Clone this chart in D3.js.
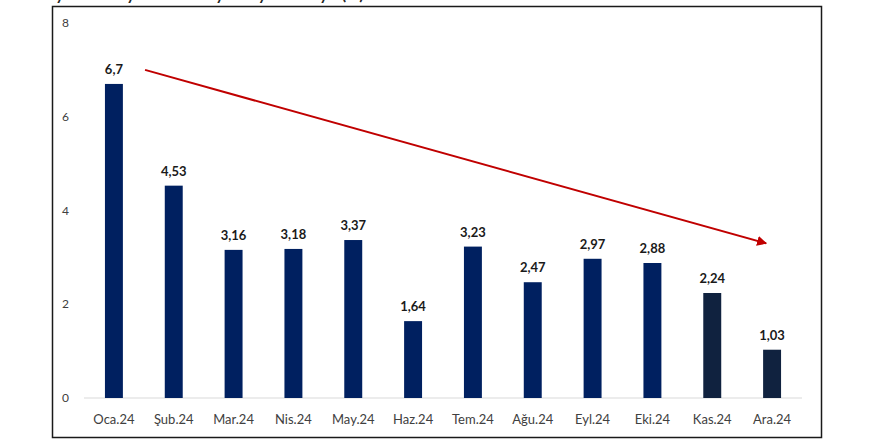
<!DOCTYPE html>
<html><head><meta charset="utf-8">
<script src="https://cdn.jsdelivr.net/npm/d3@7"></script>
<style>html,body{margin:0;padding:0;background:#fff;}svg{display:block;}</style>
</head><body>
<svg id="chart" width="880" height="440"></svg>
<script>
const categories = ["Oca.24","Şub.24","Mar.24","Nis.24","May.24","Haz.24","Tem.24","Ağu.24","Eyl.24","Eki.24","Kas.24","Ara.24"];
const values = [6.7, 4.53, 3.16, 3.18, 3.37, 1.64, 3.23, 2.47, 2.97, 2.88, 2.24, 1.03];
const labels = ["6,7","4,53","3,16","3,18","3,37","1,64","3,23","2,47","2,97","2,88","2,24","1,03"];
const yTicks = [0, 2, 4, 6, 8];
const titleText = "Aylık enflasyonun 2024 yılı boyunca seyri (%)";
const trendFrom = [0.52, 7.0];   // [category index offset, value]
const trendTo = [10.9, 3.3];

const svg = d3.select("#chart");
const font = "Lato, 'Open Sans', sans-serif";

const x = d3.scaleBand().domain(categories).range([84, 802]).paddingInner(0.7).paddingOuter(0.35);
const y = d3.scaleLinear().domain([0, 8]).range([398, 23]);

// title (mostly cut off at top, as in the source)
svg.append("text").attr("x", 45).attr("y", -0.5).attr("font-family", font)
  .attr("font-weight", "bold").attr("font-size", 16).attr("fill", "#262626").text(titleText);

// frame
svg.append("rect").attr("x", 52.5).attr("y", 6.5).attr("width", 769).attr("height", 431)
  .attr("fill", "none").attr("stroke", "#1a1a1a").attr("stroke-width", 1.5);

// baseline
svg.append("line").attr("x1", 84).attr("x2", 802).attr("y1", y(0)).attr("y2", y(0))
  .attr("stroke", "#d9d9d9").attr("stroke-width", 1);

// y tick labels
svg.selectAll(".ytick").data(yTicks).join("text").attr("class", "ytick")
  .attr("x", 62).attr("y", d => y(d)).attr("dy", "0.35em")
  .attr("font-family", font).attr("font-size", 12).attr("fill", "#404040").text(d => d);

// bars
svg.selectAll(".bar").data(values).join("rect").attr("class", "bar")
  .attr("x", (d, i) => x(categories[i])).attr("width", x.bandwidth())
  .attr("y", d => y(d)).attr("height", d => y(0) - y(d))
  .attr("fill", (d, i) => i >= 10 ? "#10223f" : "#002060");

// value labels
svg.selectAll(".vl").data(values).join("text").attr("class", "vl")
  .attr("x", (d, i) => x(categories[i]) + x.bandwidth() / 2).attr("y", d => y(d) - 10)
  .attr("text-anchor", "middle").attr("font-family", font).attr("font-weight", "bold")
  .attr("font-size", 13).attr("fill", "#1a1a1a").text((d, i) => labels[i]);

// category labels
svg.selectAll(".xl").data(categories).join("text").attr("class", "xl")
  .attr("x", d => x(d) + x.bandwidth() / 2).attr("y", 419).attr("dy", "0.35em")
  .attr("text-anchor", "middle").attr("font-family", font).attr("font-size", 13)
  .attr("fill", "#404040").text(d => d);

// trend arrow
const step = x.step();
const px = i => x(categories[0]) + x.bandwidth() / 2 + i * step;
svg.append("defs").append("marker").attr("id", "ah").attr("viewBox", "0 0 10 10")
  .attr("refX", 9).attr("refY", 5).attr("markerWidth", 5).attr("markerHeight", 5)
  .attr("orient", "auto").append("path").attr("d", "M0,0L10,5L0,10Z").attr("fill", "#c00000");
svg.append("line").attr("x1", px(trendFrom[0])).attr("y1", y(trendFrom[1]))
  .attr("x2", px(trendTo[0])).attr("y2", y(trendTo[1]))
  .attr("stroke", "#c00000").attr("stroke-width", 2).attr("marker-end", "url(#ah)");
</script>
</body></html>
